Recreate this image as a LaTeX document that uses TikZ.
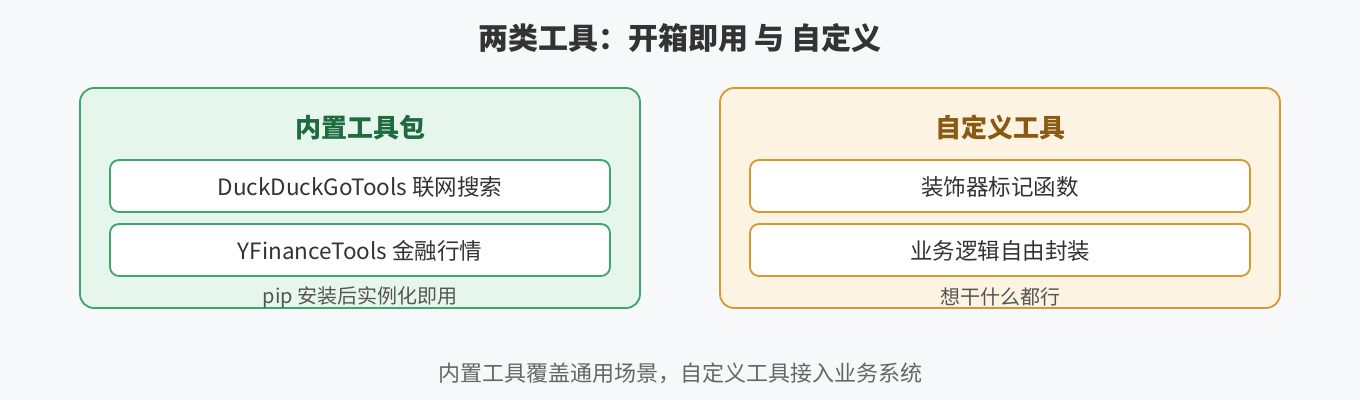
\documentclass[tikz,border=0pt]{standalone}
\usepackage{fontspec}
\setmainfont{Noto Sans CJK SC}
\definecolor{bgc}{HTML}{F7F8FA}
\definecolor{gstroke}{HTML}{3DA66B}
\definecolor{gfill}{HTML}{E7F6EC}
\definecolor{gtitle}{HTML}{1E6B3F}
\definecolor{ostroke}{HTML}{D9982E}
\definecolor{ofill}{HTML}{FDF3E2}
\definecolor{otitle}{HTML}{8A5A12}
\definecolor{txt}{HTML}{333333}
\definecolor{cap}{HTML}{555555}
\definecolor{foot}{HTML}{666666}
\tikzset{
  panel/.style={draw=#1, line width=1.8pt, rounded corners=14pt},
  item/.style={draw=#1, fill=white, line width=1.8pt, rounded corners=9pt},
  ttl/.style={font=\fontsize{30}{34}\selectfont\bfseries, text=txt},
  ptitle/.style={font=\fontsize{26}{30}\selectfont\bfseries, text=#1},
  itext/.style={font=\fontsize{22.5}{26}\selectfont, text=txt},
  ctext/.style={font=\fontsize{20}{24}\selectfont, text=cap},
  ftext/.style={font=\fontsize{22}{26}\selectfont, text=foot},
}
\begin{document}
\begin{tikzpicture}[x=1pt,y=-1pt]
\fill[bgc] (0,0) rectangle (1360,400);
\useasboundingbox (0,0) rectangle (1360,400);
\node[ttl] (title) at (680,38) {两类工具：开箱即用 与 自定义};
% left panel
\draw[panel=gstroke, fill=gfill] (80,88) rectangle (640,308);
\node[ptitle=gtitle] (lt) at (360,128) {内置工具包};
\draw[item=gstroke] (110,160) rectangle (610,212);
\node[itext] (l1) at (360,187) {DuckDuckGoTools 联网搜索};
\draw[item=gstroke] (110,224) rectangle (610,276);
\node[itext] (l2) at (360,251) {YFinanceTools 金融行情};
\node[ctext] (lc) at (360,297) {pip 安装后实例化即用};
% right panel
\draw[panel=ostroke, fill=ofill] (720,88) rectangle (1280,308);
\node[ptitle=otitle] (rt) at (1000,128) {自定义工具};
\draw[item=ostroke] (750,160) rectangle (1250,212);
\node[itext] (r1) at (1000,187) {装饰器标记函数};
\draw[item=ostroke] (750,224) rectangle (1250,276);
\node[itext] (r2) at (1000,251) {业务逻辑自由封装};
\node[ctext] (rc) at (1000,297) {想干什么都行};
\node[ftext] (ft) at (680,373) {内置工具覆盖通用场景，自定义工具接入业务系统};
\end{tikzpicture}
\end{document}
